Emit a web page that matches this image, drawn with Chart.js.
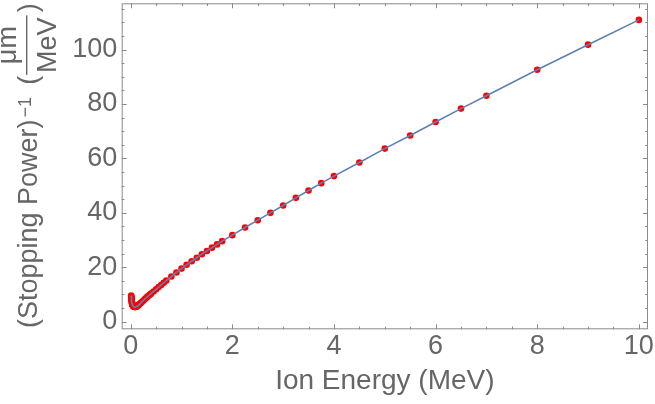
<!DOCTYPE html>
<html><head><meta charset="utf-8">
<script src="https://cdn.jsdelivr.net/npm/chart.js@4.4.1/dist/chart.umd.min.js"></script>
<style>html,body{margin:0;padding:0;background:#fff;}#wrap{width:655px;height:404px;position:relative;}</style>
</head><body><div id="wrap"><canvas id="c" width="655" height="404"></canvas></div>
<script>
// Ion energy (MeV)
const energyMeV = [
  0.010,0.011,0.012,0.013,0.014,0.015,0.016,0.017,0.018,
  0.020,0.0225,0.025,0.0275,0.030,0.0325,0.035,0.0375,
  0.040,0.045,0.050,0.055,0.060,0.065,0.070,0.080,0.090,
  0.100,0.110,0.120,0.130,0.140,0.150,0.160,0.170,0.180,
  0.200,0.225,0.250,0.275,0.300,0.325,0.350,0.375,
  0.400,0.450,0.500,0.550,0.600,0.650,0.700,0.800,0.900,
  1.0,1.1,1.2,1.3,1.4,1.5,1.6,1.7,1.8,
  2.0,2.25,2.5,2.75,3.0,3.25,3.5,3.75,
  4.0,4.5,5.0,5.5,6.0,6.5,7.0,8.0,9.0,10.0
];
// (Stopping Power)^-1 in um/MeV
const invStoppingPower = [
  9.6,9.3,9.0,8.75,8.5,8.3,8.1,7.95,7.8,
  7.5,7.2,6.95,6.7,6.5,6.35,6.2,6.1,
  6.0,5.85,5.7,5.6,5.55,5.5,5.45,5.4,5.4,
  5.45,5.5,5.6,5.75,5.9,6.05,6.2,6.4,6.55,
  6.9,7.35,7.8,8.25,8.7,9.1,9.5,9.9,
  10.3,11.1,11.9,12.7,13.5,14.3,15.1,16.6,18.1,
  19.5,20.9,22.2,23.5,24.8,26.0,27.2,28.4,29.6,
  31.8,34.6,37.3,40.0,42.7,45.5,48.2,50.9,
  53.5,58.5,63.6,68.4,73.4,78.3,83.0,92.6,101.8,110.9
];
const xTickValues = [0,2,4,6,8,10];
const yTickValues = [0,20,40,60,80,100];
const xMinorTicks = [0.5,1,1.5,2.5,3,3.5,4.5,5,5.5,6.5,7,7.5,8.5,9,9.5];
const yMinorTicks = [5,10,15,25,30,35,45,50,55,65,70,75,85,90,95,105,110,115];
const xTitle = 'Ion Energy (MeV)';
const yTitleMain = '(Stopping Power)';
const yTitleSup = '\u22121';
const yTitleNum = '\u03bcm';
const yTitleDen = 'MeV';

const FONT = '"Liberation Sans", Arial, Helvetica, sans-serif';
const TXT = '#666666';
const FRAME = '#8a8a8a';

const points = energyMeV.map((e,i)=>({x:e, y:invStoppingPower[i]}));

const framePlugin = {
  id:'frame',
  afterDatasetsDraw(chart){
    const {ctx, chartArea:a, scales:{x, y}} = chart;
    ctx.save();
    ctx.strokeStyle = FRAME;
    ctx.lineWidth = 1;
    ctx.strokeRect(a.left+0.5, a.top+0.5, a.right-a.left-1, a.bottom-a.top-1);
    const tick = (vals, len, axis) => {
      ctx.beginPath();
      vals.forEach(v=>{
        if(axis==='x'){
          const p = Math.round(x.getPixelForValue(v))+0.5;
          ctx.moveTo(p, a.bottom); ctx.lineTo(p, a.bottom-len);
          ctx.moveTo(p, a.top); ctx.lineTo(p, a.top+len);
        } else {
          const p = Math.round(y.getPixelForValue(v))+0.5;
          ctx.moveTo(a.left, p); ctx.lineTo(a.left+len, p);
          ctx.moveTo(a.right, p); ctx.lineTo(a.right-len, p);
        }
      });
      ctx.stroke();
    };
    tick(xTickValues, 5, 'x');
    tick(xMinorTicks, 2.7, 'x');
    tick(yTickValues, 5, 'y');
    tick(yMinorTicks, 2.7, 'y');
    ctx.restore();
  }
};

const yTitlePlugin = {
  id:'yTitle',
  afterDraw(chart){
    const ctx = chart.ctx;
    ctx.save();
    ctx.fillStyle = TXT;
    ctx.translate(37, 328);
    ctx.rotate(-Math.PI/2);
    ctx.textBaseline = 'alphabetic';
    ctx.textAlign = 'left';
    ctx.font = '27px ' + FONT;
    ctx.fillText(yTitleMain, 0, 0);
    let u = ctx.measureText(yTitleMain).width + 2;
    ctx.font = '18px ' + FONT;
    ctx.fillText(yTitleSup, u, -6);
    u += ctx.measureText(yTitleSup).width + 12;
    ctx.font = '27px ' + FONT;
    ctx.fillText('(', u, 0);
    u += ctx.measureText('(').width + 1;
    const L = Math.max(ctx.measureText(yTitleNum).width, ctx.measureText(yTitleDen).width) + 4;
    ctx.textAlign = 'center';
    ctx.fillText(yTitleNum, u + L/2, -21.5);
    ctx.fillText(yTitleDen, u + L/2, 19);
    ctx.fillRect(u, -11, L, 1.4);
    u += L + 3;
    ctx.textAlign = 'left';
    ctx.fillText(')', u, 0);
    ctx.restore();
  }
};

new Chart(document.getElementById('c'), {
  type:'scatter',
  data:{
    datasets:[
      {
        label:'data',
        data:points,
        showLine:false,
        pointRadius:3.3,
        pointHoverRadius:3.3,
        pointBackgroundColor:'#ff0000',
        pointBorderWidth:0,
        order:2
      },
      {
        label:'fit',
        data:points,
        showLine:true,
        pointRadius:0,
        borderColor:'#5e81b5',
        borderWidth:1.6,
        tension:0,
        fill:false,
        order:1
      }
    ]
  },
  options:{
    responsive:false,
    animation:false,
    devicePixelRatio:1,
    layout:{padding:{left:0, top:2.7, right:7, bottom:0}},
    plugins:{legend:{display:false}, tooltip:{enabled:false}},
    scales:{
      x:{
        type:'linear', min:-0.177, max:10.18,
        afterBuildTicks:(s)=>{ s.ticks = xTickValues.map(v=>({value:v})); },
        afterFit:(s)=>{ s.height = 74.7; s.paddingLeft = 0; s.paddingRight = 0; s.paddingTop = 0; s.paddingBottom = 0; },
        grid:{display:false, drawTicks:false},
        border:{display:false},
        ticks:{font:{family:FONT, size:27}, color:TXT, padding:1, maxRotation:0, autoSkip:false,
               callback:(v)=>String(v)},
        title:{display:true, text:xTitle, font:{family:FONT, size:28}, color:TXT, padding:{top:0, bottom:6}}
      },
      y:{
        type:'linear', min:-2.8, max:117,
        afterBuildTicks:(s)=>{ s.ticks = yTickValues.map(v=>({value:v})); },
        afterFit:(s)=>{ s.width = 121.7; s.paddingLeft = 0; s.paddingRight = 0; s.paddingTop = 0; s.paddingBottom = 0; },
        grid:{display:false, drawTicks:false},
        border:{display:false},
        ticks:{font:{family:FONT, size:27}, color:TXT, padding:4.5, autoSkip:false,
               callback:(v)=>String(v)}
      }
    }
  },
  plugins:[framePlugin, yTitlePlugin]
});
</script>
</body></html>
